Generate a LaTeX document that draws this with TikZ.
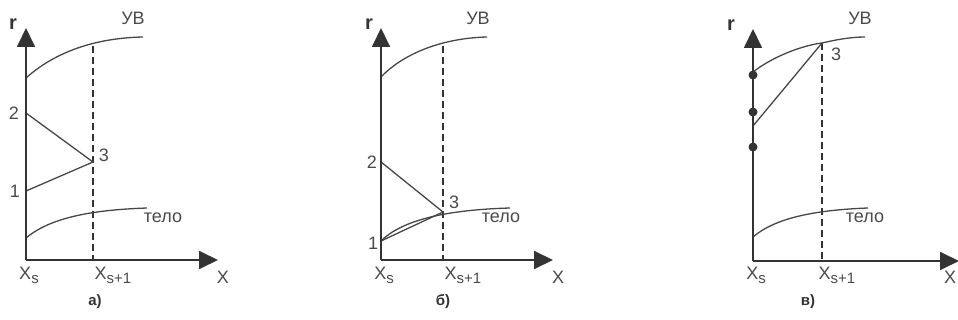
\documentclass[tikz,border=0pt]{standalone}
\usepackage{fontspec}
\setmainfont{Liberation Sans}
\usetikzlibrary{arrows.meta}
\definecolor{ink}{HTML}{333333}
\definecolor{txt}{HTML}{4A4A4A}
\tikzset{
  axis/.style={ink, line width=1.8pt, -{Triangle[length=19pt,width=18pt]}},
  crv/.style={ink!90, line width=1.3pt},
  seg/.style={ink!90, line width=1.3pt},
  dsh/.style={ink, line width=1.2pt, dash pattern=on 7pt off 4pt},
  lbl/.style={text=txt, font=\fontsize{18}{19}\selectfont, inner sep=0pt},
  rlbl/.style={text=ink, font=\fontsize{20}{20}\selectfont\bfseries, inner sep=0pt},
  captxt/.style={text=ink, font=\fontsize{15}{16}\selectfont\bfseries, inner sep=0pt},
  dotmark/.style={circle, fill=ink, inner sep=0pt, minimum size=9pt},
}
\newcommand{\xsub}[1]{X\raisebox{-4pt}{\fontsize{15}{15}\selectfont #1}}
\begin{document}
\begin{tikzpicture}[x=1pt,y=-1pt]
\useasboundingbox (0,0) rectangle (958,320);
% ---------- panel a ----------
\coordinate (oa) at (26,260);
\coordinate (ya) at (26,28);
\coordinate (xa) at (218,260);
\coordinate (da1) at (93,46);
\coordinate (da2) at (93,260);
\coordinate (a1) at (26,191);
\coordinate (a2) at (26,113);
\coordinate (a3) at (93,162);
\draw[dsh] (da1) -- (da2);
\draw[crv] (26,78) .. controls (55,52) and (95,38) .. (143,37);
\draw[crv] (26,238) .. controls (50,218) and (90,210) .. (147,208);
\draw[seg] (a2) -- (a3) -- (a1);
\draw[axis] (oa) -- (ya);
\draw[axis] (oa) -- (xa);
\node[rlbl] (ra) at (13,24) {r};
\node[lbl] (uva) at (133,18) {УВ};
\node[lbl] (n2a) at (14,113) {2};
\node[lbl] (n1a) at (15,191) {1};
\node[lbl] (n3a) at (104,155) {3};
\node[lbl] (tela) at (163,218) {тело};
\node[lbl] (xsa) at (29,275) {\xsub{s}};
\node[lbl] (xs1a) at (113,275) {\xsub{s+1}};
\node[lbl] (xla) at (223,277) {X};
\node[captxt] (capa) at (95,302) {а)};
% ---------- panel b ----------
\coordinate (ob) at (381,260);
\coordinate (yb) at (381,28);
\coordinate (xb) at (553,260);
\coordinate (db1) at (443,46);
\coordinate (db2) at (443,260);
\coordinate (b1) at (381,241);
\coordinate (b2) at (381,162);
\coordinate (b3) at (443,212);
\draw[dsh] (db1) -- (db2);
\draw[crv] (381,77) .. controls (405,52) and (445,38) .. (487,37);
\draw[crv] (b1) .. controls (400,222) and (440,210) .. (510,208);
\draw[seg] (b2) -- (b3) -- (b1);
\draw[axis] (ob) -- (yb);
\draw[axis] (ob) -- (xb);
\node[rlbl] (rb) at (369,24) {r};
\node[lbl] (uvb) at (478,18) {УВ};
\node[lbl] (n2b) at (372,162) {2};
\node[lbl] (n1b) at (373,243) {1};
\node[lbl] (n3b) at (454,202) {3};
\node[lbl] (telb) at (501,218) {тело};
\node[lbl] (xsb) at (384,275) {\xsub{s}};
\node[lbl] (xs1b) at (463,275) {\xsub{s+1}};
\node[lbl] (xlb) at (558,277) {X};
\node[captxt] (capb) at (443,302) {б)};
% ---------- panel c ----------
\coordinate (oc) at (753,261);
\coordinate (yc) at (753,29);
\coordinate (xc) at (959,261);
\coordinate (dc1) at (822,43);
\coordinate (dc2) at (822,261);
\coordinate (c0) at (753,126);
\coordinate (c3) at (822,43);
\draw[dsh] (dc1) -- (dc2);
\draw[crv] (753,72) .. controls (775,55) and (805,45) .. (822,43) .. controls (835,40) and (850,37) .. (865,37);
\draw[crv] (753,237) .. controls (775,218) and (815,210) .. (868,208);
\draw[seg] (c0) -- (c3);
\draw[axis] (oc) -- (yc);
\draw[axis] (oc) -- (xc);
\node[dotmark] (p1) at (753,75) {};
\node[dotmark] (p2) at (753,112) {};
\node[dotmark] (p3) at (753,147) {};
\node[rlbl] (rc) at (731,25) {r};
\node[lbl] (uvc) at (860,18) {УВ};
\node[lbl] (n3c) at (836,54) {3};
\node[lbl] (telc) at (865,218) {тело};
\node[lbl] (xsc) at (756,275) {\xsub{s}};
\node[lbl] (xs1c) at (837,275) {\xsub{s+1}};
\node[lbl] (xlc) at (950,277) {X};
\node[captxt] (capc) at (808,302) {в)};
\end{tikzpicture}
\end{document}
